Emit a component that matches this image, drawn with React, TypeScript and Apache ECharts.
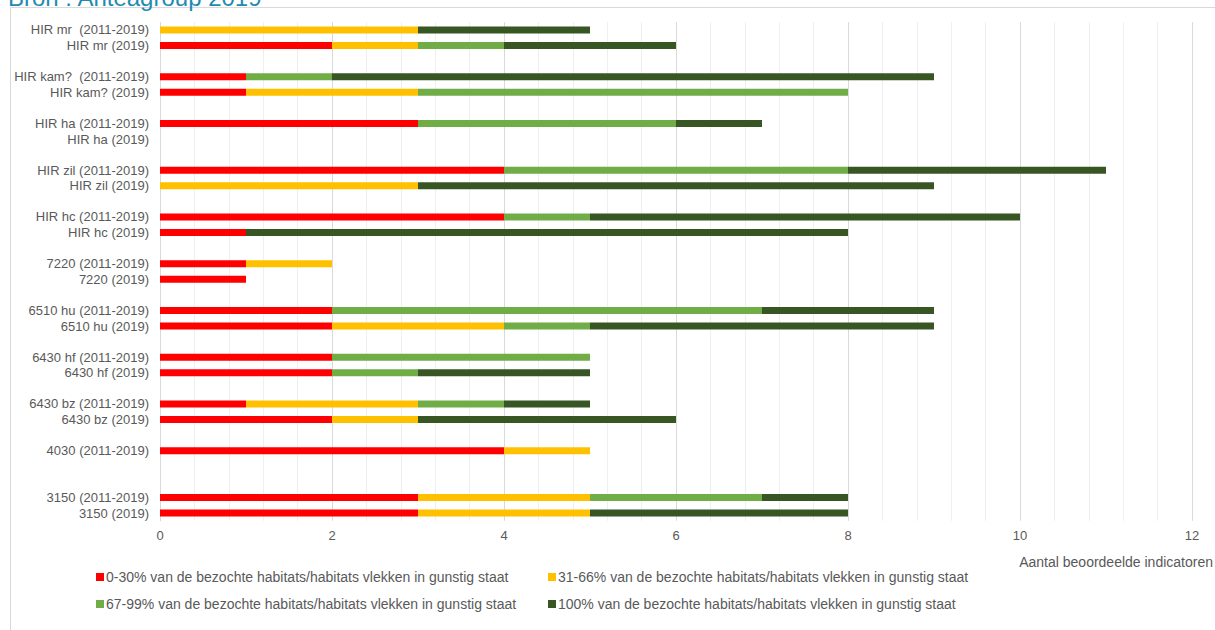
import React, { useEffect, useRef } from "react";
import * as echarts from "echarts";

const categories: string[] = [
  "HIR mr  (2011-2019)", "HIR mr (2019)", " ",
  "HIR kam?  (2011-2019)", "HIR kam? (2019)", "  ",
  "HIR ha (2011-2019)", "HIR ha (2019)", "   ",
  "HIR zil (2011-2019)", "HIR zil (2019)", "    ",
  "HIR hc (2011-2019)", "HIR hc (2019)", "     ",
  "7220 (2011-2019)", "7220 (2019)", "      ",
  "6510 hu (2011-2019)", "6510 hu (2019)", "       ",
  "6430 hf (2011-2019)", "6430 hf (2019)", "        ",
  "6430 bz (2011-2019)", "6430 bz (2019)", "         ",
  "4030 (2011-2019)", "          ", "           ",
  "3150 (2011-2019)", "3150 (2019)",
];

const seriesNames: string[] = [
  "0-30% van de bezochte habitats/habitats vlekken in gunstig staat",
  "31-66% van de bezochte habitats/habitats vlekken in gunstig staat",
  "67-99% van de bezochte habitats/habitats vlekken in gunstig staat",
  "100% van de bezochte habitats/habitats vlekken in gunstig staat",
];

const red: number[] = [0, 2, 0, 1, 1, 0, 3, 0, 0, 4, 0, 0, 4, 1, 0, 1, 1, 0, 2, 2, 0, 2, 2, 0, 1, 2, 0, 4, 0, 0, 3, 3];
const yellow: number[] = [3, 1, 0, 0, 2, 0, 0, 0, 0, 0, 3, 0, 0, 0, 0, 1, 0, 0, 0, 2, 0, 0, 0, 0, 2, 1, 0, 1, 0, 0, 2, 2];
const lightGreen: number[] = [0, 1, 0, 1, 5, 0, 3, 0, 0, 4, 0, 0, 1, 0, 0, 0, 0, 0, 5, 1, 0, 3, 1, 0, 1, 0, 0, 0, 0, 0, 2, 0];
const darkGreen: number[] = [2, 2, 0, 7, 0, 0, 1, 0, 0, 3, 6, 0, 5, 7, 0, 0, 0, 0, 2, 4, 0, 0, 2, 0, 1, 3, 0, 0, 0, 0, 1, 3];

const colors: string[] = ["#ff0000", "#ffc000", "#70ad47", "#375623"];

const FONT = "'Liberation Sans', Arial, sans-serif";

export default function App() {
  const ref = useRef<HTMLDivElement>(null);
  useEffect(() => {
    if (!ref.current) return;
    const chart = echarts.init(ref.current, undefined, { renderer: "svg" });
    const values = [red, yellow, lightGreen, darkGreen];
    const legendText = { color: "#595959", fontSize: 14, fontFamily: FONT, padding: [0, 0, 0, -3] };
    chart.setOption({
      animation: false,
      textStyle: { fontFamily: FONT },
      grid: { left: 160, right: 23, top: 22.2, bottom: 630 - 520.8, containLabel: false },
      xAxis: {
        type: "value",
        min: 0,
        max: 12,
        interval: 2,
        axisLine: { show: false },
        axisTick: { show: false },
        axisLabel: { color: "#595959", fontSize: 13, margin: 8, fontFamily: FONT },
        splitLine: { show: true, lineStyle: { color: "#d9d9d9", width: 1 } },
        minorTick: { show: false, splitNumber: 5 },
        minorSplitLine: { show: true, lineStyle: { color: "#efefef", width: 1 } },
      },
      yAxis: {
        type: "category",
        data: categories,
        inverse: true,
        axisLine: { show: true, lineStyle: { color: "#d9d9d9" } },
        axisTick: { show: false },
        axisLabel: { color: "#595959", fontSize: 13, margin: 11, fontFamily: FONT, interval: 0 },
      },
      legend: [
        {
          orient: "vertical",
          left: 91,
          top: 565,
          itemWidth: 8,
          itemHeight: 8,
          itemGap: 13,
          icon: "rect",
          textStyle: legendText,
          data: [seriesNames[0], seriesNames[2]],
        },
        {
          orient: "vertical",
          left: 543,
          top: 565,
          itemWidth: 8,
          itemHeight: 8,
          itemGap: 13,
          icon: "rect",
          textStyle: legendText,
          data: [seriesNames[1], seriesNames[3]],
        },
      ],
      graphic: [
        {
          type: "rect",
          shape: { x: 10.5, y: 7.5, width: 1220, height: 640 },
          style: { fill: "none", stroke: "#d9d9d9", lineWidth: 1 },
          silent: true,
        },
        {
          type: "text",
          x: 8,
          y: 9,
          style: {
            text: "Bron : Anteagroup 2019",
            fill: "#1f8bb0",
            font: "24px " + FONT,
            verticalAlign: "bottom",
            align: "left",
          },
        },
        {
          type: "text",
          x: 1213,
          y: 562,
          style: {
            text: "Aantal beoordeelde indicatoren",
            fill: "#595959",
            font: "14px " + FONT,
            verticalAlign: "middle",
            align: "right",
          },
        },
      ],
      series: values.map((v, i) => ({
        name: seriesNames[i],
        type: "bar",
        stack: "total",
        barWidth: 7,
        itemStyle: { color: colors[i] },
        data: v,
      })),
    });
    return () => chart.dispose();
  }, []);
  return (
    <div
      ref={ref}
      style={{ position: "fixed", left: 0, top: 0, width: 1215, height: 630, background: "#fff" }}
    />
  );
}
